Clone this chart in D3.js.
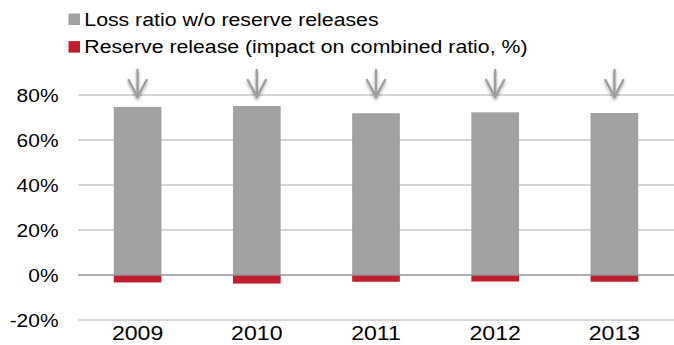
<!DOCTYPE html>
<html>
<head>
<meta charset="utf-8">
<script src="https://cdn.jsdelivr.net/npm/d3@7"></script>
<style>
  html, body { margin: 0; padding: 0; background: #fff; }
  svg { display: block; font-family: "Liberation Sans", Arial, sans-serif; }
</style>
</head>
<body>
<svg id="chart" width="674" height="345"></svg>
<script>
// Loss ratio before and after reserve releases, by year
const years = ["2009", "2010", "2011", "2012", "2013"];
const lossRatio = [74.7, 75.1, 71.9, 72.3, 72.0];
const reserveRelease = [-3.3, -3.8, -3.0, -2.9, -3.0];
const yTicks = [-20, 0, 20, 40, 60, 80];
const legendLabels = ["Loss ratio w/o reserve releases", "Reserve release (impact on combined ratio, %)"];

const colors = { loss: "#a0a1a3", release: "#be1e2d" };

const svg = d3.select("#chart");
const plot = { left: 78, right: 674, top: 95, bottom: 320 };
const textStretch = 1.12; // wide label face

const x = d3.scaleBand().domain(years).range([plot.left, plot.right]).paddingInner(0.6).paddingOuter(0.3);
const y = d3.scaleLinear().domain([-20, 80]).range([plot.bottom, plot.top]);

// drop shadow for the arrow markers
const defs = svg.append("defs");
const f = defs.append("filter").attr("id", "shadow").attr("x", "-50%").attr("y", "-50%").attr("width", "200%").attr("height", "200%");
f.append("feDropShadow").attr("dx", 0).attr("dy", 2).attr("stdDeviation", 1.6).attr("flood-color", "#000").attr("flood-opacity", 0.35);

// horizontal gridlines
svg.append("g").selectAll("line")
  .data(yTicks.filter(d => d !== 0))
  .join("line")
  .attr("x1", plot.left).attr("x2", plot.right)
  .attr("y1", d => y(d)).attr("y2", d => y(d))
  .attr("stroke", "#c6c6c6").attr("stroke-width", 1.5);

// y tick labels
svg.append("g").selectAll("text")
  .data(yTicks)
  .join("text")
  .attr("transform", d => `translate(58.5,${y(d) + 6.7}) scale(${textStretch},1)`)
  .attr("text-anchor", "end")
  .attr("font-size", 18.7)
  .attr("fill", "#000")
  .text(d => d + "%");

// stacked bars: loss ratio above zero, reserve release below
const bars = svg.append("g");
bars.selectAll("rect.loss")
  .data(years)
  .join("rect").attr("class", "loss")
  .attr("x", d => x(d)).attr("width", x.bandwidth())
  .attr("y", (d, i) => y(lossRatio[i]))
  .attr("height", (d, i) => y(0) - y(lossRatio[i]))
  .attr("fill", colors.loss);

bars.selectAll("rect.release")
  .data(years)
  .join("rect").attr("class", "release")
  .attr("x", d => x(d)).attr("width", x.bandwidth())
  .attr("y", y(0))
  .attr("height", (d, i) => y(reserveRelease[i]) - y(0))
  .attr("fill", colors.release);

// zero baseline
svg.append("line")
  .attr("x1", plot.left).attr("x2", plot.right)
  .attr("y1", y(0)).attr("y2", y(0))
  .attr("stroke", "#959595").attr("stroke-width", 1.5);

// downward arrows above each bar
const arrows = svg.append("g").attr("filter", "url(#shadow)");
years.forEach(yr => {
  const cx = x(yr) + x.bandwidth() / 2;
  const g = arrows.append("g")
    .attr("fill", "none").attr("stroke", "#9d9d9d")
    .attr("stroke-width", 2.4).attr("stroke-linecap", "round").attr("stroke-linejoin", "round");
  g.append("line").attr("x1", cx).attr("x2", cx).attr("y1", 70).attr("y2", 97);
  g.append("polyline").attr("points", `${cx - 9},${80} ${cx},${97} ${cx + 9},${80}`);
});

// x category labels
svg.append("g").selectAll("text")
  .data(years)
  .join("text")
  .attr("transform", d => `translate(${x(d) + x.bandwidth() / 2},340) scale(1.1,1)`)
  .attr("text-anchor", "middle")
  .attr("font-size", 21)
  .attr("fill", "#000")
  .text(d => d);

// legend
const legend = svg.append("g");
const legendColors = [colors.loss, colors.release];
const legendBase = [25.7, 53.3];
legendLabels.forEach((label, i) => {
  legend.append("rect")
    .attr("x", 68.5).attr("y", legendBase[i] - 12.2)
    .attr("width", 11.5).attr("height", 11.5)
    .attr("fill", legendColors[i]);
  legend.append("text")
    .attr("transform", `translate(84.3,${legendBase[i]}) scale(${textStretch},1)`)
    .attr("font-size", 19)
    .attr("fill", "#000")
    .text(label);
});
</script>
</body>
</html>
